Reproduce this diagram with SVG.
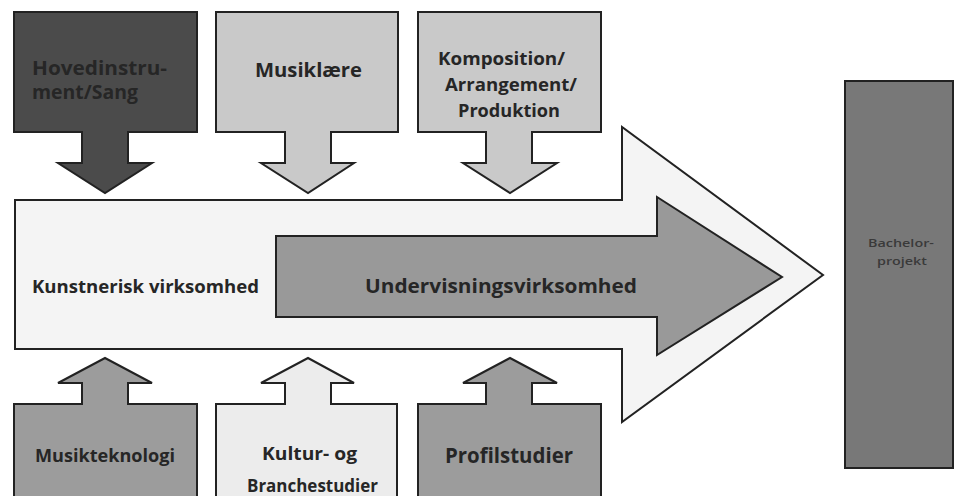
<svg xmlns="http://www.w3.org/2000/svg" width="956" height="496" viewBox="0 0 956 496">
<defs>
<style>
.s{stroke:#222;stroke-width:2;stroke-linejoin:miter}
.t{font-family:"Open Sans",Lato,"Liberation Sans",sans-serif;font-weight:bold;fill:#262626}
.dark{fill:#4b4b4b}
.mid{fill:#9c9c9c}
.light{fill:#c9c9c9}
.pale{fill:#ececec}
.arrow{fill:#f4f4f4}
.small{font-weight:600;fill:#3a3a3a}
</style>
</defs>
<rect width="956" height="496" fill="#ffffff"/>
<g id="connectors">
<path id="big-arrow" class="s arrow" d="M15,200 H622 V127 L823,275 L622,422 V349 H15 Z"/>
<path id="inner-arrow" class="s" fill="#999999" d="M276,236 H657 V197 L782,277 L657,355 V317 H276 Z"/>
</g>
<g id="hovedinstrument">
<path class="s dark" d="M14,12 H197 V132 H128 V163 H152 L105,193 L58,163 H82 V132 H14 Z"/>
<text class="t" font-size="19" x="32" y="75" textLength="135" lengthAdjust="spacingAndGlyphs">Hovedinstru-</text>
<text class="t" font-size="19" x="32" y="99" textLength="106" lengthAdjust="spacingAndGlyphs">ment/Sang</text>
</g>
<g id="musiklaere">
<path class="s light" d="M216,12 H398 V132 H331 V163 H354 L308,193 L261,163 H285 V132 H216 Z"/>
<text class="t" font-size="20" x="255" y="77" textLength="107" lengthAdjust="spacingAndGlyphs">Musiklære</text>
</g>
<g id="komposition">
<path class="s light" d="M418,12 H601 V132 H532 V163 H557 L510,193 L463,163 H486 V132 H418 Z"/>
<text class="t" font-size="18" x="438" y="65" textLength="127" lengthAdjust="spacingAndGlyphs">Komposition/</text>
<text class="t" font-size="18" x="445" y="91" textLength="132" lengthAdjust="spacingAndGlyphs">Arrangement/</text>
<text class="t" font-size="18" x="458" y="117" textLength="102" lengthAdjust="spacingAndGlyphs">Produktion</text>
</g>
<g id="kunstnerisk">
<text class="t" font-size="17" x="32" y="293" textLength="227" lengthAdjust="spacingAndGlyphs">Kunstnerisk virksomhed</text>
</g>
<g id="undervisning">
<text class="t" font-size="20" x="365" y="293" textLength="272" lengthAdjust="spacingAndGlyphs">Undervisningsvirksomhed</text>
</g>
<g id="musikteknologi">
<path class="s mid" d="M14,498 V404 H82 V383 H58 L105,358 L152,383 H128 V404 H197 V498"/>
<text class="t" font-size="17" x="35" y="462" textLength="140" lengthAdjust="spacingAndGlyphs">Musikteknologi</text>
</g>
<g id="kultur">
<path class="s pale" d="M216,498 V404 H285 V383 H261 L308,358 L354,383 H331 V404 H397 V498"/>
<text class="t" font-size="17" x="262" y="460" textLength="95" lengthAdjust="spacingAndGlyphs">Kultur- og</text>
<text class="t" font-size="17" x="247" y="492" textLength="131" lengthAdjust="spacingAndGlyphs">Branchestudier</text>
</g>
<g id="profilstudier">
<path class="s mid" d="M418,498 V404 H486 V383 H463 L510,358 L557,383 H532 V404 H601 V498"/>
<text class="t" font-size="21" x="445" y="463" textLength="128" lengthAdjust="spacingAndGlyphs">Profilstudier</text>
</g>
<g id="bachelor">
<rect class="s" fill="#787878" x="845" y="81" width="108" height="387"/>
<text class="t small" font-size="11" x="868" y="247" textLength="66" lengthAdjust="spacingAndGlyphs">Bachelor-</text>
<text class="t small" font-size="11" x="877" y="265" textLength="50" lengthAdjust="spacingAndGlyphs">projekt</text>
</g>
</svg>
